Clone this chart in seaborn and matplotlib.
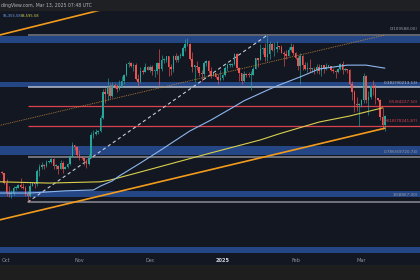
import matplotlib
matplotlib.use("Agg")
import matplotlib.pyplot as plt
import matplotlib.transforms as mtransforms
from matplotlib.patches import Rectangle
from matplotlib.ticker import NullLocator
import numpy as np
import pandas as pd
import seaborn as sns

# ---------------- data: BTC/USD daily candles, thousands of USD ----------------
# day index 0 = 1 Oct 2024 ; first candle = 28 Sep 2024, last = 11 Mar 2025
first_day = -3
first_open = 65.8
closes = [65.9, 65.6, 63.3,
          60.8, 60.6, 60.8, 62.1, 62.1, 62.8, 62.2, 62.1, 60.6, 60.3, 62.4, 63.2, 62.9, 66.0, 67.0, 67.6,
          67.4, 68.4, 68.4, 69.0, 67.4, 67.4, 66.7, 68.2, 66.6, 67.0, 67.9, 69.9, 72.7, 72.3, 70.2,
          69.5, 69.3, 68.7, 67.8, 69.4, 75.6, 75.9, 76.5, 76.7, 80.5, 88.7, 87.9, 90.5, 87.3, 91.1,
          90.6, 89.8, 90.5, 92.3, 94.3, 98.4, 98.9, 97.7, 98.0, 93.0, 91.9, 95.9, 95.6, 97.5, 96.4,
          97.2, 95.9, 96.0, 98.8, 96.6, 99.9, 99.9, 101.2, 97.4, 96.7, 101.2, 100.0, 101.4, 101.4, 104.3,
          106.0, 106.1, 100.2, 97.5, 97.8, 97.2, 95.1, 94.7, 98.7, 99.4, 95.8, 94.2, 95.2, 93.7, 92.8, 93.4,
          94.4, 96.9, 98.1, 98.2, 98.3, 102.1, 96.9, 95.0, 92.5, 94.7, 94.6, 94.5, 94.5, 96.5, 100.5,
          99.9, 104.1, 104.5, 101.1, 102.0, 106.1, 103.7, 104.0, 104.8, 104.7, 102.6, 102.1, 101.3, 103.7,
          104.7, 102.4,
          100.6, 97.7, 101.4, 97.9, 96.6, 96.6, 96.5, 96.5, 96.1, 97.4, 95.8, 97.9, 96.6, 97.5, 97.6,
          96.1, 95.8, 95.5, 96.6, 98.3, 96.1, 96.6, 96.3, 91.5, 88.7, 84.7, 84.4, 84.4,
          86.0, 94.2, 86.1, 87.2, 90.6, 89.9, 86.7, 86.2, 80.7, 78.5, 81.0]
highs = [66.3, 66.0, 65.6,
         64.1, 62.4, 61.5, 62.5, 62.4, 63.0, 64.4, 63.2, 62.5, 61.3, 63.4, 63.4, 63.3, 66.5, 67.9, 68.4,
         67.9, 68.9, 68.7, 69.4, 69.5, 67.8, 67.5, 68.8, 68.7, 67.4, 68.2, 70.2, 73.6, 72.9, 72.6,
         71.6, 70.0, 69.3, 69.0, 70.5, 76.4, 76.9, 77.2, 76.9, 81.5, 89.6, 89.9, 93.4, 91.8, 91.9,
         91.8, 91.5, 92.6, 94.0, 94.9, 98.9, 99.6, 99.0, 98.7, 98.9, 94.8, 97.2, 96.6, 98.6, 97.8,
         97.9, 98.1, 96.3, 99.0, 104.0, 101.9, 100.5, 101.4, 101.2, 98.3, 101.9, 102.5, 101.9, 102.6, 105.2,
         107.8, 108.3, 106.5, 102.8, 98.1, 99.5, 97.4, 96.4, 99.4, 99.9, 99.9, 97.3, 95.5, 95.2, 94.9, 96.1,
         94.9, 97.8, 98.9, 98.7, 98.8, 102.7, 102.5, 97.2, 95.3, 95.8, 95.0, 95.4, 95.8, 97.3, 100.7,
         100.8, 105.9, 104.9, 106.3, 109.6, 107.1, 106.3, 106.8, 107.1, 105.3, 105.5, 103.2, 103.8, 104.8,
         106.4, 106.1,
         102.8, 101.5, 102.5, 101.6, 99.0, 99.2, 100.2, 96.9, 97.3, 98.3, 98.5, 98.1, 98.1, 98.8, 97.9,
         97.7, 97.0, 96.1, 96.9, 98.8, 99.5, 96.9, 96.6, 96.5, 92.5, 89.3, 87.0, 85.1,
         86.5, 95.0, 94.4, 88.9, 91.0, 92.8, 91.2, 86.8, 86.4, 83.9, 81.5]
lows = [65.4, 65.4, 62.9,
        60.2, 59.9, 59.8, 60.5, 61.7, 62.0, 62.1, 61.8, 60.3, 58.9, 60.0, 62.4, 62.0, 62.4, 64.8, 66.7,
        66.7, 67.1, 68.0, 68.1, 66.6, 66.6, 65.3, 66.6, 65.6, 66.5, 66.8, 67.6, 69.7, 71.4, 69.7,
        68.8, 69.0, 67.5, 66.8, 67.5, 69.3, 74.6, 75.6, 75.9, 76.5, 80.2, 85.1, 86.2, 86.7, 87.1,
        90.1, 88.8, 89.4, 90.4, 91.5, 94.1, 97.2, 97.2, 95.8, 92.6, 90.8, 91.8, 94.7, 95.4, 96.1,
        95.7, 94.5, 93.6, 94.7, 91.0, 95.9, 98.8, 99.1, 94.2, 94.3, 95.7, 99.3, 99.2, 100.6, 101.2,
        103.3, 105.3, 100.0, 95.7, 92.2, 96.4, 94.2, 92.4, 93.4, 97.6, 95.2, 93.3, 94.1, 93.4, 91.4, 92.3,
        92.8, 94.2, 96.0, 97.5, 97.3, 97.9, 96.2, 92.5, 91.2, 92.2, 93.8, 93.7, 89.2, 94.3, 96.5,
        97.3, 99.8, 102.3, 99.6, 99.5, 100.1, 103.3, 101.2, 102.8, 104.1, 102.5, 97.8, 100.3, 101.3,
        103.3, 101.6,
        100.3, 96.2, 91.2, 96.2, 96.2, 95.7, 95.7, 95.7, 94.8, 95.3, 94.9, 94.1, 95.3, 96.3, 97.2,
        96.0, 95.2, 93.4, 95.2, 96.4, 94.9, 96.0, 95.2, 91.1, 86.1, 82.3, 82.7, 78.2,
        83.8, 85.1, 85.1, 81.5, 86.4, 87.8, 84.7, 85.8, 80.0, 77.4, 76.6]

# moving averages (day index, thousands)
ma50_day = [-3, 10, 25, 37, 40, 45, 48, 57, 65, 78, 87, 96, 101, 111, 116, 125, 133, 145, 153, 161]
ma50_val = [60.9, 60.9, 61.4, 61.6, 62.5, 63.7, 64.9, 68.1, 71.2, 76.7, 79.9, 83.6, 85.8, 89.3,
            91.0, 93.8, 96.6, 98.0, 98.0, 96.9]
ma200_day = [-3, 18, 40, 44, 54, 68, 87, 108, 116, 133, 146, 160]
ma200_val = [63.5, 63.2, 63.5, 63.9, 65.4, 67.6, 70.7, 74.2, 75.9, 79.3, 81.1, 83.6]

# Fibonacci retracement (anchors: 10 Oct 2024 low -> 20 Jan 2025 high)
fib_labels = ["0(109588.00)", "0.382(90213.13)", "0.5(84227.50)",
              "0.618(78241.87)", "0.786(69720.74)", "1(58867.00)"]
fib_prices = [109.588, 90.213, 84.228, 78.243, 69.722, 58.867]
fib_anchor_days = [9, 111]
fib_anchor_prices = [58.867, 109.588]

# horizontal zones (thousands)
zone_low = [106.4, 90.4, 70.2, 60.0, 48.7]
zone_high = [109.2, 91.9, 72.6, 61.3, 49.8]

# trend lines (day, thousands)
lower_trend_day = [-3, 161]
lower_trend_val = [55.1, 77.5]
upper_trend_day = [-3, 45]
upper_trend_val = [109.6, 121.6]
mid_dotted_day = [-3, 161]
mid_dotted_val = [78.3, 109.6]

month_labels = ["Oct", "Nov", "Dec", "2025", "Feb", "Mar"]
month_days = [0, 31, 61, 92, 123, 151]

header_text = "dingView.com, Mar 13, 2025 07:48 UTC"
ma_texts = ["95,355.58", "83,595.58"]

# ---------------- style ----------------
BG = "#131722"
BAR_BG = "#1e1e1e"
TOP_BG = "#1f2024"
GREEN = "#26a69a"
RED = "#ef5350"
ZONE = "#27498a"
BLUE_MA = "#8db8ee"
YELLOW_MA = "#d9cf4c"
ORANGE = "#f39b1c"

sns.set_theme(style="dark", rc={"axes.facecolor": BG, "figure.facecolor": BAR_BG})
plt.rcParams["font.family"] = ["DejaVu Sans"]

W, H = 420, 280
fig = plt.figure(figsize=(4.2, 2.8), dpi=100, facecolor=BAR_BG)
ax = fig.add_axes([0, 15 / H, 1, 255 / H])
ax.set_facecolor(BG)
fig.patches.append(Rectangle((0, 270 / H), 1, 10 / H, transform=fig.transFigure,
                             color=TOP_BG, zorder=0))

ax.set_yscale("log")
x0 = -6.5 / 2.35
x1 = (420 - 6.5) / 2.35
ax.set_xlim(x0, x1)
ax.set_ylim(46.6, 120.3)

# zones
for lo, hi in zip(zone_low, zone_high):
    ax.axhspan(lo, hi, color=ZONE, alpha=0.95, lw=0, zorder=1)

# fib levels
fib_colors = ["#787b86", "#b4bccb", "#d9424f", "#d9424f", "#8a8d96", "#8a8d96"]
fib_lw = [1.1, 1.1, 0.9, 0.9, 1.1, 1.1]
for p, c, lw in zip(fib_prices, fib_colors, fib_lw):
    ax.hlines(p, fib_anchor_days[0], x1 + 5, colors=c, lw=lw, zorder=2)
ax.plot(fib_anchor_days, fib_anchor_prices, color="#c9ccd6", lw=0.8,
        ls=(0, (3, 2.5)), zorder=3)

# candles
days = np.arange(first_day, first_day + len(closes))
opens = [first_open] + closes[:-1]
df = pd.DataFrame({"day": days, "open": opens, "high": highs, "low": lows, "close": closes})
up = df["close"] >= df["open"]
cols = np.where(up, GREEN, RED)
ax.vlines(df["day"], df["low"], df["high"], colors=cols, lw=0.45, zorder=4)
body_lo = np.minimum(df["open"], df["close"])
body_hi = np.maximum(df["open"], df["close"])
body_h = np.maximum(body_hi - body_lo, body_lo * 0.004)
ax.bar(df["day"], body_h, bottom=body_lo, width=0.66, color=cols, lw=0, zorder=5)

# trend lines and moving averages (seaborn)
sns.lineplot(x=lower_trend_day, y=lower_trend_val, ax=ax, color=ORANGE, lw=1.2, zorder=6)
sns.lineplot(x=upper_trend_day, y=upper_trend_val, ax=ax, color=ORANGE, lw=1.2, zorder=6)
sns.lineplot(x=mid_dotted_day, y=mid_dotted_val, ax=ax, color="#c98a34", lw=0.6,
             ls=(0, (1, 1.2)), zorder=6)
sns.lineplot(x=ma200_day, y=ma200_val, ax=ax, color=YELLOW_MA, lw=0.8, zorder=7)
sns.lineplot(x=ma50_day, y=ma50_val, ax=ax, color=BLUE_MA, lw=0.8, zorder=7)

ax.set_xlim(x0, x1)
ax.set_ylim(46.6, 120.3)

# fib labels on the right, right-aligned just inside the image edge
fib_label_y = [29, 83, 102, 121, 152, 195]
fib_label_c = ["#9a9da6", "#b4bccb", "#d9424f", "#d9424f", "#9a9da6", "#9a9da6"]
for t, yp, c in zip(fib_labels, fib_label_y, fib_label_c):
    fig.text(418 / W, 1 - yp / H, t, fontsize=3.0, color=c, ha="right", va="center")

# month labels
trans = mtransforms.blended_transform_factory(ax.transData, ax.transAxes)
for lab, d in zip(month_labels, month_days):
    bold = lab == "2025"
    ax.text(d, 5 / 255, lab, transform=trans, ha="center", va="center", fontsize=3.6,
            color="#d1d4dc" if bold else "#8f929b", fontweight="bold" if bold else "normal")

# header
fig.text(1 / W, 1 - 5 / H, header_text, fontsize=3.3, color="#b2b5be", ha="left", va="center")
fig.text(3 / W, 1 - 16 / H, ma_texts[0], fontsize=2.6, color="#6ea5ee", ha="left", va="center")
fig.text(21 / W, 1 - 16 / H, ma_texts[1], fontsize=2.6, color="#d9cf4c", ha="left", va="center")

ax.xaxis.set_major_locator(NullLocator())
ax.xaxis.set_minor_locator(NullLocator())
ax.yaxis.set_major_locator(NullLocator())
ax.yaxis.set_minor_locator(NullLocator())
ax.set_xlabel("")
ax.set_ylabel("")
for s in ax.spines.values():
    s.set_visible(False)
if ax.get_legend() is not None:
    ax.get_legend().remove()

fig.savefig("out.png", dpi=100, facecolor=BAR_BG)
